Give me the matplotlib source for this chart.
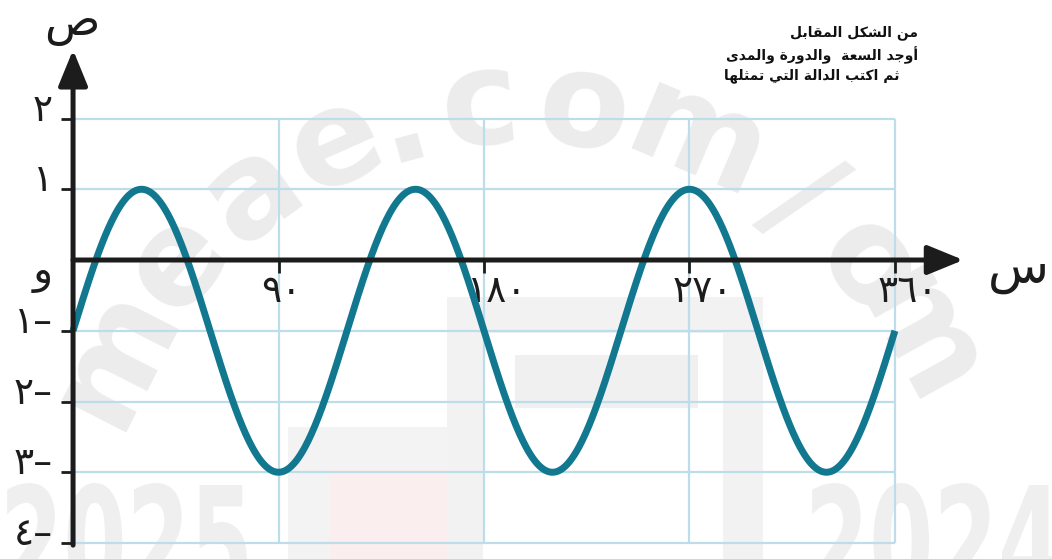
import matplotlib
matplotlib.use("Agg")
import matplotlib.pyplot as plt
import numpy as np
from matplotlib.patches import PathPatch, Rectangle
from matplotlib.textpath import TextPath
from matplotlib.font_manager import FontProperties
from matplotlib.transforms import Affine2D, IdentityTransform, ScaledTranslation

W, H = 1052, 559

# Paramètres de la sinusoïde
amplitude = 2
period = 120          # en degrés
midline = -1
x_start, x_end = 0, 360

x_ticks = [90, 180, 270, 360]
x_tick_labels = ["٩٠", "١٨٠", "٢٧٠", "٣٦٠"]
y_ticks = [2, 1, -1, -2, -3, -4]
y_tick_labels = ["٢", "١", "١–", "٢–", "٣–", "٤–"]

question = ["من الشكل المقابل",
            "أوجد السعة  والدورة والمدى",
            "ثم اكتب الدالة التي تمثلها"]

# formes contextuelles : isolée, finale, initiale, médiane
FORMS = {
    "ا": ("\uFE8D", "\uFE8E", None, None),
    "أ": ("\uFE83", "\uFE84", None, None),
    "ب": ("\uFE8F", "\uFE90", "\uFE91", "\uFE92"),
    "ة": ("\uFE93", "\uFE94", None, None),
    "ت": ("\uFE95", "\uFE96", "\uFE97", "\uFE98"),
    "ث": ("\uFE99", "\uFE9A", "\uFE9B", "\uFE9C"),
    "ج": ("\uFE9D", "\uFE9E", "\uFE9F", "\uFEA0"),
    "د": ("\uFEA9", "\uFEAA", None, None),
    "ر": ("\uFEAD", "\uFEAE", None, None),
    "س": ("\uFEB1", "\uFEB2", "\uFEB3", "\uFEB4"),
    "ش": ("\uFEB5", "\uFEB6", "\uFEB7", "\uFEB8"),
    "ص": ("\uFEB9", "\uFEBA", "\uFEBB", "\uFEBC"),
    "ع": ("\uFEC9", "\uFECA", "\uFECB", "\uFECC"),
    "ق": ("\uFED5", "\uFED6", "\uFED7", "\uFED8"),
    "ك": ("\uFED9", "\uFEDA", "\uFEDB", "\uFEDC"),
    "ل": ("\uFEDD", "\uFEDE", "\uFEDF", "\uFEE0"),
    "م": ("\uFEE1", "\uFEE2", "\uFEE3", "\uFEE4"),
    "ن": ("\uFEE5", "\uFEE6", "\uFEE7", "\uFEE8"),
    "ه": ("\uFEE9", "\uFEEA", "\uFEEB", "\uFEEC"),
    "و": ("\uFEED", "\uFEEE", None, None),
    "ى": ("\uFEEF", "\uFEF0", None, None),
    "ي": ("\uFEF1", "\uFEF2", "\uFEF3", "\uFEF4"),
}


def shape(text):
    """Lie les lettres arabes et remet la ligne dans l'ordre d'affichage."""
    out = []
    for i, ch in enumerate(text):
        if ch not in FORMS:
            out.append(ch)
            continue
        prev = text[i - 1] if i > 0 else ""
        nxt = text[i + 1] if i + 1 < len(text) else ""
        iso, fin, ini, med = FORMS[ch]
        join_prev = prev in FORMS and FORMS[prev][2] is not None
        join_next = ini is not None and nxt in FORMS
        if join_prev and join_next:
            out.append(med)
        elif join_prev:
            out.append(fin)
        elif join_next:
            out.append(ini)
        else:
            out.append(iso)
    return "".join(reversed(out))


fig = plt.figure(figsize=(W / 100, H / 100), dpi=100)
fig.patch.set_facecolor("white")
ax = fig.add_axes([0, 0, 1, 1])
ax.set_facecolor("none")
ax.set_xlim(-32, 428.8)
ax.set_ylim(-4.226, 3.675)
for s in ax.spines.values():
    s.set_visible(False)
ax.spines["left"].set_position(("data", 0))
ax.spines["bottom"].set_position(("data", 0))

axis_c = "#1c1c1c"
grid_c = "#bcdde9"
curve_c = "#117890"
wm_c = "#ececec"


def px_rect(x0, y0, x1, y1, color):
    r = Rectangle((x0, H - y1), x1 - x0, y1 - y0, transform=IdentityTransform(),
                  facecolor=color, lw=0, zorder=-2)
    fig.add_artist(r)


def px_word(txt, x0, x1, ytop, ybot, color):
    tp = TextPath((0, 0), txt, size=1, prop=FontProperties(family="DejaVu Sans", weight="bold"))
    ext = tp.get_extents()
    tr = (Affine2D().translate(-ext.x0, -ext.y0)
          .scale((x1 - x0) / ext.width, (ybot - ytop) / ext.height)
          .translate(x0, H - ybot))
    fig.add_artist(PathPatch(tr.transform_path(tp), facecolor=color, lw=0,
                             transform=IdentityTransform(), zorder=-1))


# filigrane : logo, années et adresse en arc
px_rect(447, 297, 483, 559, "#f2f2f2")
px_rect(447, 297, 763, 333, "#f2f2f2")
px_rect(723, 297, 763, 559, "#f2f2f2")
px_rect(515, 355, 698, 408, "#f0f0f0")
px_rect(288, 427, 447, 559, "#f3f3f3")
px_rect(330, 470, 447, 559, "#fbeeee")
px_word("2025", 7, 247, 483, 600, "#efefef")
px_word("2024", 812, 1058, 483, 600, "#efefef")

wm_chars = "meae.com/om"
wm_angles = [153, 139, 126, 114, 105, 95, 82, 67, 52, 40, 29]
for ch, ang in zip(wm_chars, wm_angles):
    a = np.radians(ang)
    cx = 520 + 418 * np.cos(a)
    cy = 560 - 418 * np.sin(a)
    fig.text(cx / W, 1 - cy / H, ch, rotation=ang - 90, rotation_mode="anchor",
             ha="center", va="baseline", fontsize=95, fontweight="bold",
             color=wm_c, zorder=-1, family="DejaVu Sans")

# quadrillage
ax.hlines(y_ticks, x_start, x_end, color=grid_c, lw=1.6, zorder=1)
ax.vlines(x_ticks, min(y_ticks), max(y_ticks), color=grid_c, lw=1.6, zorder=1)

# axes fléchés
ax.annotate("", xy=(0, 2.97), xytext=(0, -4.03),
            arrowprops=dict(arrowstyle="-|>,head_length=1.1,head_width=0.45",
                            mutation_scale=20, lw=3.6, color=axis_c,
                            shrinkA=0, shrinkB=0), zorder=4)
ax.annotate("", xy=(390, 0), xytext=(0, 0),
            arrowprops=dict(arrowstyle="-|>,head_length=1.1,head_width=0.45",
                            mutation_scale=20, lw=3.6, color=axis_c,
                            shrinkA=0, shrinkB=0), zorder=4)

ax.set_xticks(x_ticks)
ax.set_xticklabels([])
ax.set_yticks(y_ticks)
ax.set_yticklabels([])
ax.tick_params(axis="both", direction="out", length=9, width=2, color=axis_c)


def off(dx, dy):
    return ax.transData + ScaledTranslation(dx / 100, dy / 100, fig.dpi_scale_trans)


for xv, lab in zip(x_ticks, x_tick_labels):
    ax.text(xv, 0, lab, transform=off(-17, -14), ha="left", va="top",
            fontsize=27, color=axis_c, family="DejaVu Sans")
for yv, lab in zip(y_ticks, y_tick_labels):
    ax.text(0, yv, lab, transform=off(-20, 8), ha="right", va="center",
            fontsize=27, color=axis_c, family="DejaVu Sans")
ax.text(0, 0, "و", transform=off(-20, -12), ha="right", va="center",
        fontsize=30, color=axis_c, family="DejaVu Sans")

# noms des axes
fig.text(72 / W, 1 - 24 / H, shape("ص"), ha="center", va="center",
         fontsize=33, color=axis_c, family="DejaVu Sans")
fig.text(1018 / W, 1 - 270 / H, shape("س"), ha="center", va="center",
         fontsize=36, color=axis_c, family="DejaVu Sans")

# courbe
x = np.linspace(x_start, x_end, 721)
y = midline + amplitude * np.sin(2 * np.pi * x / period)
ax.plot(x, y, color=curve_c, lw=5, zorder=3, solid_capstyle="butt")

# consigne
for line, xr, yc in zip(question, [918, 918, 900], [33, 55, 76]):
    fig.text(xr / W, 1 - yc / H, shape(line), ha="right", va="center",
             fontsize=10, fontweight="bold", color="#111111", family="DejaVu Sans")

fig.savefig("out.png", dpi=100)
